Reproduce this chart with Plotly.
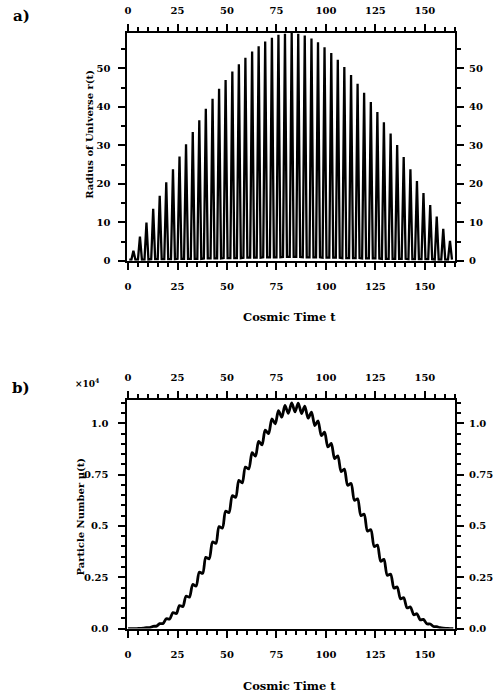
import plotly.graph_objects as go

# ---------------- data ----------------
# r(t): each oscillation = rise start, peak, fall end (flat near-zero bottom in between)
rise_t = [1.7, 5.0, 8.3, 11.7, 15.0, 18.3, 21.7, 25.0, 28.3, 31.7, 35.0, 38.3, 41.7, 45.0,
          48.3, 51.7, 55.0, 58.3, 61.7, 65.0, 68.3, 71.7, 75.0, 78.3, 81.7, 85.0, 88.3, 91.7,
          95.0, 98.3, 101.7, 105.0, 108.3, 111.7, 115.0, 118.3, 121.7, 125.0, 128.3, 131.7,
          135.0, 138.3, 141.7, 145.0, 148.3, 151.7, 155.0, 158.3, 161.7]
peak_t = [2.7, 6.0, 9.3, 12.7, 16.0, 19.3, 22.7, 26.0, 29.3, 32.7, 36.0, 39.3, 42.7, 46.0,
          49.3, 52.7, 56.0, 59.3, 62.7, 66.0, 69.3, 72.7, 76.0, 79.3, 82.7, 86.0, 89.3, 92.7,
          96.0, 99.3, 102.7, 106.0, 109.3, 112.7, 116.0, 119.3, 122.7, 126.0, 129.3, 132.7,
          136.0, 139.3, 142.7, 146.0, 149.3, 152.7, 156.0, 159.3, 162.7]
fall_t = [3.7, 7.0, 10.3, 13.7, 17.0, 20.3, 23.7, 27.0, 30.3, 33.7, 37.0, 40.3, 43.7, 47.0,
          50.3, 53.7, 57.0, 60.3, 63.7, 67.0, 70.3, 73.7, 77.0, 80.3, 83.7, 87.0, 90.3, 93.7,
          97.0, 100.3, 103.7, 107.0, 110.3, 113.7, 117.0, 120.3, 123.7, 127.0, 130.3, 133.7,
          137.0, 140.3, 143.7, 147.0, 150.3, 153.7, 157.0, 160.3, 163.7]
peak_r = [2.6, 6.3, 9.9, 13.5, 16.9, 20.4, 23.8, 27.1, 30.3, 33.5, 36.5, 39.5, 42.1, 44.7,
          47.0, 49.2, 51.1, 52.8, 54.4, 55.8, 57.0, 58.0, 58.8, 59.0, 59.2, 59.0, 58.6, 57.8,
          56.8, 55.5, 54.0, 52.3, 50.4, 48.3, 46.0, 43.7, 41.3, 38.7, 36.0, 33.1, 30.1, 27.0,
          23.8, 20.7, 17.6, 14.5, 11.5, 8.3, 5.2]
trough_r = [0.3, 0.3, 0.3, 0.4, 0.4, 0.4, 0.4, 0.5, 0.5, 0.5, 0.5, 0.6, 0.6, 0.6, 0.7, 0.7,
            0.7, 0.8, 0.8, 0.8, 0.9, 0.9, 0.9, 1.0, 1.0, 1.0, 0.9, 0.9, 0.9, 0.8, 0.8, 0.8,
            0.7, 0.7, 0.7, 0.6, 0.6, 0.6, 0.5, 0.5, 0.5, 0.5, 0.4, 0.4, 0.4, 0.4, 0.3, 0.3, 0.3]

# particle number (units of 1e4) at the peak instants and at the mid-trough instants
trough_t = [4.4, 7.7, 11.0, 14.4, 17.7, 21.0, 24.4, 27.7, 31.0, 34.4, 37.7, 41.0, 44.4, 47.7,
            51.0, 54.4, 57.7, 61.0, 64.4, 67.7, 71.0, 74.4, 77.7, 81.0, 84.4, 87.7, 91.0, 94.4,
            97.7, 101.0, 104.4, 107.7, 111.0, 114.4, 117.7, 121.0, 124.4, 127.7, 131.0, 134.4,
            137.7, 141.0, 144.4, 147.7, 151.0, 154.4, 157.7, 161.0, 164.4]
mu_peak = [0.000, 0.001, 0.004, 0.011, 0.024, 0.048, 0.078, 0.112, 0.158, 0.215, 0.275,
           0.347, 0.422, 0.497, 0.572, 0.647, 0.722, 0.787, 0.857, 0.912, 0.967, 1.022,
           1.062, 1.087, 1.100, 1.099, 1.084, 1.055, 1.012, 0.957, 0.902, 0.842, 0.777,
           0.707, 0.632, 0.557, 0.482, 0.407, 0.337, 0.265, 0.203, 0.150, 0.105, 0.072,
           0.045, 0.022, 0.009, 0.002, 0.000]
mu_trough = [0.000, 0.002, 0.005, 0.012, 0.025, 0.046, 0.073, 0.107, 0.153, 0.207, 0.269,
             0.340, 0.415, 0.490, 0.565, 0.640, 0.710, 0.778, 0.840, 0.895, 0.950, 0.998,
             1.030, 1.049, 1.056, 1.048, 1.025, 0.989, 0.940, 0.885, 0.828, 0.765, 0.698,
             0.625, 0.550, 0.475, 0.400, 0.328, 0.260, 0.197, 0.145, 0.101, 0.067, 0.042,
             0.023, 0.010, 0.004, 0.001, 0.000]

x_ticks = [0, 25, 50, 75, 100, 125, 150]
r_ticks = [0, 10, 20, 30, 40, 50]
mu_ticks = [0.0, 0.25, 0.5, 0.75, 1.0]
mu_tick_text = ["0.0", "0.25", "0.5", "0.75", "1.0"]

# ---------------- build the curves ----------------
t_r, r_vals = [0.6], [0.3]
for a, b, c, pr, tr in zip(rise_t, peak_t, fall_t, peak_r, trough_r):
    t_r += [a, b, c]
    r_vals += [tr, pr, tr]

t_mu, mu_vals = [0.0], [0.0]
for a, b, c, d in zip(peak_t, mu_peak, trough_t, mu_trough):
    t_mu += [a, c]
    mu_vals += [b, d]

W, H = 493, 699
FONT = "DejaVu Serif"
tickfont = dict(family=FONT, size=10, color="black", weight="bold")

fig = go.Figure()
fig.add_trace(go.Scatter(x=t_r, y=r_vals, mode="lines", line=dict(color="black", width=2.3),
                         xaxis="x", yaxis="y", showlegend=False, hoverinfo="skip"))
fig.add_trace(go.Scatter(x=t_mu, y=mu_vals, mode="lines",
                         line=dict(color="black", width=2.8, shape="spline", smoothing=0.8),
                         xaxis="x3", yaxis="y3", showlegend=False, hoverinfo="skip"))
# dummy traces so that the mirrored axes are drawn
for xa_, ya_ in (("x2", "y2"), ("x4", "y4")):
    fig.add_trace(go.Scatter(x=[None], y=[None], mode="lines", xaxis=xa_, yaxis=ya_,
                             showlegend=False, hoverinfo="skip"))

xdom = [126 / W, 457.5 / W]
ydom_top = [(H - 263) / H, (H - 33) / H]
ydom_bot = [(H - 634) / H, (H - 403) / H]
xrange_ = [-0.3, 165.2]


def xa(side, anchor, domain, standoff, **kw):
    d = dict(domain=domain, range=xrange_, side=side, anchor=anchor,
             showline=True, linewidth=2, linecolor="black", showgrid=False, zeroline=False,
             ticks="outside", ticklen=7, tickwidth=2, tickcolor="black",
             tickvals=x_ticks, ticktext=[str(v) for v in x_ticks], tickfont=tickfont,
             ticklabelstandoff=standoff,
             minor=dict(tick0=0, dtick=5, ticks="outside", ticklen=4, tickwidth=2,
                        tickcolor="black", showgrid=False))
    d.update(kw)
    return d


def ya(side, anchor, domain, rng, vals, texts, minor_dt, standoff, **kw):
    d = dict(domain=domain, range=rng, side=side, anchor=anchor,
             showline=True, linewidth=2, linecolor="black", showgrid=False, zeroline=False,
             ticks="outside", ticklen=7, tickwidth=2, tickcolor="black",
             tickvals=vals, ticktext=texts, tickfont=tickfont, ticklabelstandoff=standoff,
             minor=dict(tick0=0, dtick=minor_dt, ticks="outside", ticklen=4, tickwidth=2,
                        tickcolor="black", showgrid=False))
    d.update(kw)
    return d


r_range = [0, 59.3]
mu_range = [0, 1.116]

fig.update_layout(
    width=W, height=H, margin=dict(l=0, r=0, t=0, b=0),
    paper_bgcolor="white", plot_bgcolor="white",
    xaxis=xa("bottom", "y", xdom, 8),
    xaxis2=xa("top", "y", xdom, 6, overlaying="x"),
    yaxis=ya("left", "x", ydom_top, r_range, r_ticks, [str(v) for v in r_ticks], 5, 6),
    yaxis2=ya("right", "x", ydom_top, r_range, r_ticks, [str(v) for v in r_ticks], 5, 3,
              overlaying="y"),
    xaxis3=xa("bottom", "y3", xdom, 8),
    xaxis4=xa("top", "y3", xdom, 6, overlaying="x3"),
    yaxis3=ya("left", "x3", ydom_bot, mu_range, mu_ticks, mu_tick_text, 0.05, 8),
    yaxis4=ya("right", "x3", ydom_bot, mu_range, mu_ticks, mu_tick_text, 0.05, 3,
              overlaying="y3"),
)

lab = dict(family=FONT, size=11.5, color="black", weight="bold")
ylab = dict(family=FONT, size=10, color="black", weight="bold")
ann = [
    dict(text="a)", x=8 / W, y=1 - 16 / H, xanchor="left", yanchor="middle",
         font=dict(family=FONT, size=15, color="black", weight="bold")),
    dict(text="b)", x=7 / W, y=1 - 391 / H, xanchor="left", yanchor="middle",
         font=dict(family=FONT, size=15, color="black", weight="bold")),
    dict(text="×10<sup>4</sup>", x=86 / W, y=1 - 386 / H, xanchor="center", yanchor="middle",
         font=dict(family=FONT, size=9, color="black", weight="bold")),
    dict(text="Cosmic Time t", x=290 / W, y=1 - 320 / H, xanchor="center", yanchor="middle",
         font=lab),
    dict(text="Cosmic Time t", x=290 / W, y=1 - 692 / H, xanchor="center", yanchor="middle",
         font=lab),
    dict(text="Radius of Universe r(t)", x=88 / W, y=1 - 135 / H, xanchor="center",
         yanchor="middle", textangle=-90, font=ylab),
    dict(text="Particle Number μ(t)", x=78 / W, y=1 - 521 / H, xanchor="center",
         yanchor="middle", textangle=-90, font=ylab),
]
for a in ann:
    a.update(xref="paper", yref="paper", showarrow=False)
fig.update_layout(annotations=ann)

fig.write_html("out.html")
